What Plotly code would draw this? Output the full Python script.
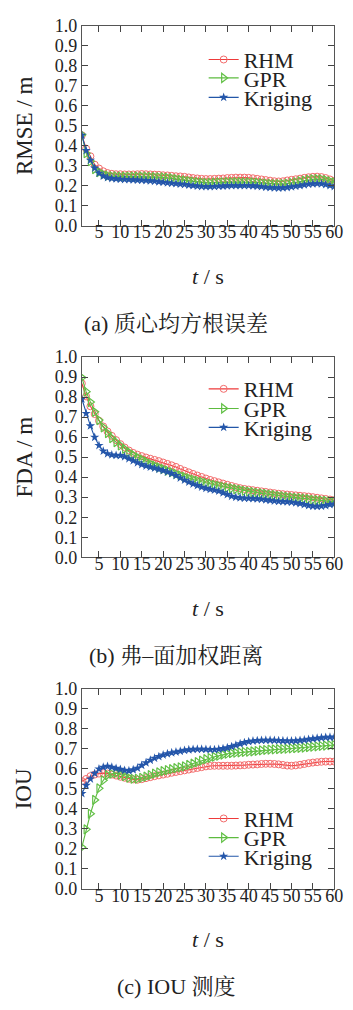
import plotly.graph_objects as go

t = list(range(1, 61))
x_ticks = list(range(5, 61, 5))
y_ticks = [i / 10 for i in range(0, 11)]
series_names = ["RHM", "GPR", "Kriging"]

rmse_rhm = [0.452, 0.385, 0.347, 0.305, 0.286, 0.272, 0.263, 0.259, 0.257, 0.257,
            0.256, 0.256, 0.256, 0.257, 0.258, 0.257, 0.256, 0.255, 0.254, 0.252,
            0.251, 0.249, 0.247, 0.246, 0.244, 0.241, 0.238, 0.236, 0.234, 0.233,
            0.233, 0.234, 0.235, 0.236, 0.238, 0.239, 0.240, 0.240, 0.240, 0.239,
            0.237, 0.234, 0.231, 0.228, 0.225, 0.222, 0.221, 0.222, 0.226, 0.229,
            0.232, 0.235, 0.239, 0.242, 0.244, 0.245, 0.243, 0.238, 0.231, 0.224]
rmse_gpr = [0.455, 0.362, 0.322, 0.283, 0.268, 0.257, 0.250, 0.247, 0.246, 0.245,
            0.245, 0.245, 0.245, 0.245, 0.245, 0.245, 0.244, 0.243, 0.242, 0.241,
            0.239, 0.236, 0.233, 0.229, 0.226, 0.223, 0.220, 0.218, 0.216, 0.214,
            0.214, 0.215, 0.216, 0.217, 0.218, 0.218, 0.218, 0.218, 0.217, 0.217,
            0.216, 0.215, 0.213, 0.211, 0.209, 0.208, 0.208, 0.208, 0.210, 0.213,
            0.217, 0.221, 0.225, 0.229, 0.232, 0.233, 0.232, 0.228, 0.222, 0.216]
rmse_krig = [0.452, 0.376, 0.327, 0.288, 0.262, 0.248, 0.240, 0.236, 0.234, 0.232,
             0.231, 0.230, 0.229, 0.228, 0.227, 0.226, 0.224, 0.222, 0.219, 0.217,
             0.214, 0.212, 0.210, 0.208, 0.206, 0.203, 0.200, 0.198, 0.196, 0.195,
             0.195, 0.196, 0.197, 0.198, 0.199, 0.200, 0.200, 0.200, 0.200, 0.200,
             0.199, 0.197, 0.195, 0.192, 0.190, 0.189, 0.188, 0.189, 0.191, 0.194,
             0.197, 0.200, 0.204, 0.207, 0.209, 0.210, 0.209, 0.205, 0.200, 0.196]

fda_rhm = [0.868, 0.803, 0.754, 0.715, 0.682, 0.653, 0.628, 0.606, 0.585, 0.565,
           0.548, 0.533, 0.521, 0.512, 0.505, 0.498, 0.492, 0.486, 0.480, 0.473,
           0.466, 0.459, 0.451, 0.441, 0.432, 0.424, 0.416, 0.408, 0.401, 0.393,
           0.386, 0.380, 0.374, 0.368, 0.362, 0.356, 0.350, 0.345, 0.341, 0.338,
           0.335, 0.332, 0.329, 0.326, 0.323, 0.320, 0.317, 0.315, 0.313, 0.311,
           0.309, 0.307, 0.305, 0.303, 0.300, 0.297, 0.294, 0.291, 0.288, 0.285]
fda_gpr = [0.897, 0.827, 0.775, 0.726, 0.685, 0.649, 0.620, 0.595, 0.575, 0.558,
           0.541, 0.525, 0.511, 0.499, 0.489, 0.478, 0.467, 0.458, 0.449, 0.441,
           0.433, 0.425, 0.417, 0.409, 0.401, 0.394, 0.388, 0.382, 0.376, 0.371,
           0.366, 0.361, 0.356, 0.352, 0.348, 0.344, 0.340, 0.336, 0.332, 0.328,
           0.325, 0.322, 0.319, 0.316, 0.313, 0.310, 0.307, 0.304, 0.301, 0.299,
           0.297, 0.295, 0.293, 0.290, 0.287, 0.285, 0.283, 0.281, 0.279, 0.278]
fda_krig = [0.790, 0.718, 0.656, 0.599, 0.558, 0.530, 0.517, 0.511, 0.509, 0.508,
            0.502, 0.492, 0.482, 0.472, 0.463, 0.456, 0.450, 0.445, 0.439, 0.433,
            0.426, 0.418, 0.408, 0.396, 0.385, 0.375, 0.366, 0.358, 0.350, 0.344,
            0.339, 0.335, 0.330, 0.322, 0.313, 0.305, 0.300, 0.297, 0.295, 0.294,
            0.293, 0.292, 0.290, 0.287, 0.284, 0.281, 0.279, 0.278, 0.277, 0.275,
            0.272, 0.268, 0.263, 0.258, 0.255, 0.254, 0.255, 0.258, 0.263, 0.266]

iou_rhm = [0.539, 0.550, 0.564, 0.572, 0.577, 0.579, 0.577, 0.572, 0.567, 0.561,
           0.556, 0.551, 0.548, 0.546, 0.549, 0.554, 0.559, 0.564, 0.568, 0.572,
           0.576, 0.581, 0.585, 0.589, 0.593, 0.597, 0.601, 0.605, 0.609, 0.613,
           0.615, 0.616, 0.616, 0.616, 0.616, 0.616, 0.617, 0.618, 0.619, 0.621,
           0.622, 0.623, 0.625, 0.626, 0.626, 0.625, 0.623, 0.620, 0.617, 0.616,
           0.618, 0.621, 0.625, 0.629, 0.632, 0.634, 0.636, 0.637, 0.637, 0.637]
iou_gpr = [0.209, 0.298, 0.376, 0.445, 0.503, 0.543, 0.569, 0.576, 0.579, 0.572,
           0.564, 0.556, 0.551, 0.551, 0.556, 0.562, 0.569, 0.577, 0.583, 0.589,
           0.594, 0.599, 0.604, 0.608, 0.613, 0.620, 0.627, 0.634, 0.642, 0.649,
           0.655, 0.661, 0.666, 0.672, 0.676, 0.679, 0.681, 0.683, 0.685, 0.686,
           0.688, 0.690, 0.693, 0.695, 0.697, 0.698, 0.699, 0.700, 0.701, 0.703,
           0.704, 0.705, 0.707, 0.709, 0.711, 0.713, 0.715, 0.717, 0.719, 0.720]
iou_krig = [0.477, 0.518, 0.550, 0.578, 0.600, 0.609, 0.613, 0.609, 0.603, 0.598,
            0.593, 0.591, 0.596, 0.604, 0.618, 0.631, 0.644, 0.654, 0.662, 0.670,
            0.676, 0.681, 0.685, 0.689, 0.693, 0.696, 0.698, 0.699, 0.699, 0.698,
            0.697, 0.697, 0.699, 0.702, 0.706, 0.712, 0.719, 0.726, 0.732, 0.737,
            0.740, 0.742, 0.743, 0.744, 0.744, 0.743, 0.742, 0.741, 0.740, 0.740,
            0.741, 0.743, 0.745, 0.748, 0.751, 0.754, 0.756, 0.758, 0.759, 0.760]

panel_titles = ["RMSE / m", "FDA / m", "IOU"]
captions = ["(a) 质心均方根误差", "(b) 弗–面加权距离", "(c) IOU 测度"]
panels = [
    [rmse_rhm, rmse_gpr, rmse_krig],
    [fda_rhm, fda_gpr, fda_krig],
    [iou_rhm, iou_gpr, iou_krig],
]

W, H = 353, 1010
SERIF = '"Liberation Serif", "Times New Roman", Times, serif'
CJK = '"Liberation Serif", "Times New Roman", "Noto Serif CJK SC", "Noto Sans CJK SC", serif'

# pixel layout
px_left, px_right = 84, 343
panel_px = [(16, 220), (354, 558.3), (692.7, 896.7)]
legend_rows = [[50.7, 69.5, 89.3], [386.7, 406.7, 426.0], [825.0, 844.5, 863.5]]
legend_x_px = 209

styles = [
    dict(line=dict(color="#ee3a3a", width=1.1),
         marker=dict(symbol="circle-open", size=7, color="#f36b6b", line=dict(width=1))),
    dict(line=dict(color="#5dbb3f", width=1.1),
         marker=dict(symbol="triangle-right-open", size=8, color="#62c046", line=dict(width=1.2))),
    dict(line=dict(color="#2256a8", width=1.1),
         marker=dict(symbol="star", size=7, color="#2456aa", line=dict(width=0))),
]

fig = go.Figure()
layout = dict(
    width=W, height=H, margin=dict(l=0, r=0, t=0, b=0),
    paper_bgcolor="white", plot_bgcolor="white",
    font=dict(family=SERIF, size=18, color="#222"),
    annotations=[],
)


def py(v):
    return 1 - v / H


leg_idx = 0
for p, (data, ytitle, cap) in enumerate(zip(panels, panel_titles, captions)):
    sfx = "" if p == 0 else str(p + 1)
    top, bot = panel_px[p]
    for s, (name, vals) in enumerate(zip(series_names, data)):
        leg_idx += 1
        lg = "legend" if leg_idx == 1 else "legend%d" % leg_idx
        fig.add_trace(go.Scatter(
            x=t, y=vals, name=name, mode="lines+markers",
            xaxis="x" + sfx, yaxis="y" + sfx,
            line=styles[s]["line"], marker=styles[s]["marker"],
            legend=lg, showlegend=True,
        ))
        layout[lg] = dict(
            x=legend_x_px / W, xanchor="left",
            y=py(legend_rows[p][s]), yanchor="middle",
            bgcolor="rgba(0,0,0,0)", borderwidth=0,
            font=dict(family=SERIF, size=22, color="#222"),
            itemwidth=30, tracegroupgap=0,
        )
    axcommon = dict(showline=True, linecolor="#555", linewidth=1, mirror="ticks",
                    ticks="inside", ticklen=6, tickcolor="#444", tickwidth=1,
                    showgrid=False, zeroline=False,
                    tickfont=dict(family=SERIF, size=18, color="#222"))
    layout["xaxis" + sfx] = dict(
        domain=[px_left / W, px_right / W], range=[1, 60],
        tickvals=x_ticks, anchor="y" + sfx, ticklabelstandoff=-10, **axcommon)
    layout["yaxis" + sfx] = dict(
        domain=[py(bot), py(top)], range=[0, 1],
        tickvals=y_ticks, tickformat=".1f", anchor="x" + sfx, **axcommon)
    layout["annotations"].append(dict(
        text=ytitle, xref="paper", yref="paper", x=25 / W, y=py((top + bot) / 2),
        xanchor="center", yanchor="middle", textangle=-90, showarrow=False,
        font=dict(family=SERIF, size=23, color="#222")))
    layout["annotations"].append(dict(
        text="<i>t</i> / s", xref="paper", yref="paper", x=213.5 / W, y=py(bot + 52),
        xanchor="center", yanchor="middle", showarrow=False,
        font=dict(family=SERIF, size=22, color="#222")))
    layout["annotations"].append(dict(
        text=cap, xref="paper", yref="paper", x=181 / W, y=py(bot + 100),
        xanchor="center", yanchor="middle", showarrow=False,
        font=dict(family=CJK, size=22, color="#222")))

fig.update_layout(**layout)
fig.write_html("out.html")
